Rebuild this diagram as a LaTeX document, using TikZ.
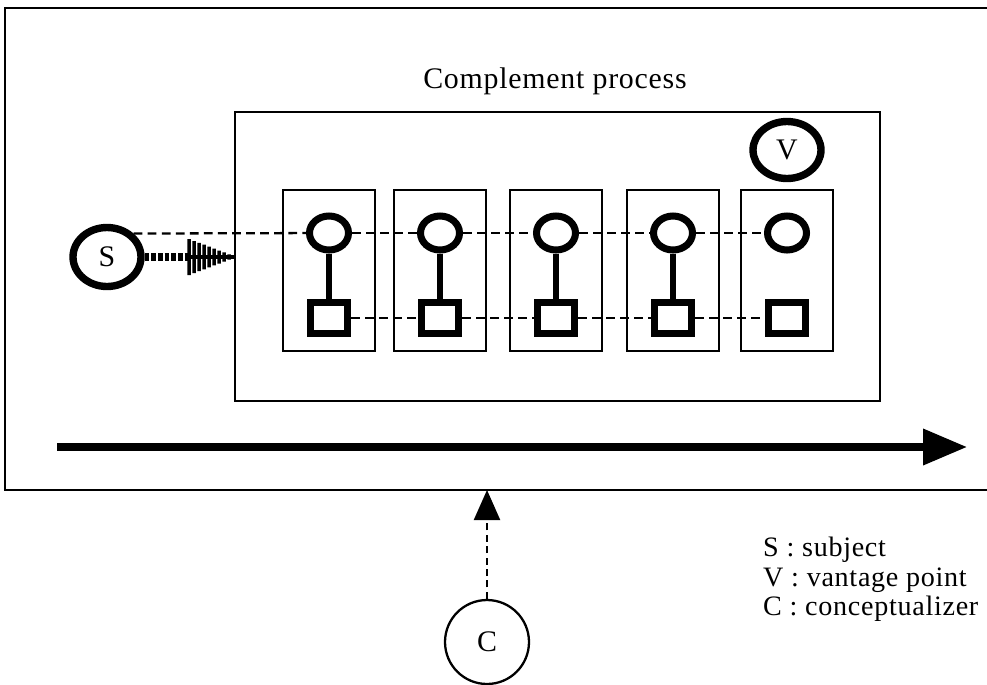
\documentclass[tikz,border=0pt]{standalone}
\usepackage{fontspec}
\setmainfont{Liberation Serif}[LetterSpace=2.5]
\usepackage{tikz}
\usetikzlibrary{arrows.meta, shapes}
\newcommand{\lblfont}{\fontsize{17}{20}\selectfont}
\newcommand{\keyfont}{\fontsize{16}{19}\selectfont}

\begin{document}
\begin{tikzpicture}[x=0.02cm, y=-0.02cm, every node/.style={font=\lblfont},
    frame/.style={line width=1.1pt},
    panel/.style={draw, line width=0.7pt, minimum width=1.84cm, minimum height=3.22cm},
    ring/.style={draw, ellipse, line width=4pt, fill=white, inner sep=0pt, minimum width=0.78cm, minimum height=0.68cm},
    sqbox/.style={draw, rectangle, line width=4.2pt, fill=white, inner sep=0pt, minimum width=0.74cm, minimum height=0.62cm},
    agent/.style={draw, ellipse, line width=4.2pt, fill=white, inner sep=0pt, minimum width=1.36cm, minimum height=1.18cm},
    stem/.style={line width=3.8pt},
    link/.style={line width=1.3pt, dash pattern=on 5pt off 3pt},
    keytext/.style={anchor=base west, font=\keyfont}]
  \useasboundingbox (0,0) rectangle (987,684);

  % outer frame, open to the right
  \draw[frame] (987,8) -- (5,8) -- (5,490) -- (987,490);

  \node[anchor=base] (title) at (555,88) {Complement process};
  \node[draw, line width=0.9pt, minimum width=12.9cm, minimum height=5.78cm] (proc) at (557.5,256.5) {};

  \node[panel] (p1) at (329,270.5) {};
  \node[panel] (p2) at (440,270.5) {};
  \node[panel] (p3) at (556,270.5) {};
  \node[panel] (p4) at (673,270.5) {};
  \node[panel] (p5) at (787,270.5) {};

  \node[ring] (c1) at (329,233) {};
  \node[ring] (c2) at (440,233) {};
  \node[ring] (c3) at (556,233) {};
  \node[ring] (c4) at (673,233) {};
  \node[ring] (c5) at (787,233) {};

  \node[sqbox] (q1) at (329,318) {};
  \node[sqbox] (q2) at (440,318) {};
  \node[sqbox] (q3) at (556,318) {};
  \node[sqbox] (q4) at (673,318) {};
  \node[sqbox] (q5) at (787,318) {};

  \draw[stem] (c1) -- (q1);
  \draw[stem] (c2) -- (q2);
  \draw[stem] (c3) -- (q3);
  \draw[stem] (c4) -- (q4);

  \node[agent] (S) at (107,257) {S};
  \node[agent, minimum height=1.14cm] (V) at (787,150) {V};

  \draw[link] (S.north east) -- (c1);
  \draw[link] (c1) -- (c2);
  \draw[link] (c2) -- (c3);
  \draw[link] (c3) -- (c4);
  \draw[link] (c4) -- (c5);
  \draw[link] (q1) -- (q2);
  \draw[link] (q2) -- (q3);
  \draw[link] (q3) -- (q4);
  \draw[link] (q4) -- (q5);

  % striped arrow from S to the process
  \coordinate (stip) at (S -| proc.west);
  \draw[line width=4pt, dash pattern=on 2.6pt off 1.2pt] (S) -- ([xshift=-0.92cm]stip);
  \begin{scope}[shift={(stip)}]
    \draw[line width=1.8pt] (-46,0) -- (0,0);
    \fill (-47,-18) rectangle (-43.5,18)
          (-42,-16) rectangle (-38.5,16)
          (-37,-14.2) rectangle (-33.5,14.2)
          (-32,-12.3) rectangle (-28.5,12.3)
          (-27,-10.3) rectangle (-23.5,10.3)
          (-22,-8.4) rectangle (-18.5,8.4)
          (-17,-6.5) rectangle (-13.5,6.5)
          (-12,-4.6) rectangle (-8.5,4.6)
          (-7,-2.7) rectangle (-3.5,2.7);
  \end{scope}

  % time line
  \coordinate (t0) at (57,447);
  \coordinate (t1) at (967,447);
  \draw[line width=4pt, -{Triangle[length=0.88cm, width=0.7cm]}] (t0) -- (t1);

  \node[draw, circle, line width=1.3pt, inner sep=0pt, minimum size=1.68cm] (C) at (487,642) {C};
  \coordinate (cin) at (487,490);
  \draw[line width=1.3pt, dash pattern=on 4pt off 2.5pt, -{Triangle[length=0.6cm, width=0.52cm]}] (C) -- (cin);

  \node[keytext] (legS) at (757,556) {S : subject};
  \node[keytext] (legV) at (757,586) {V : vantage point};
  \node[keytext] (legC) at (757,615) {C : conceptualizer};
\end{tikzpicture}
\end{document}
